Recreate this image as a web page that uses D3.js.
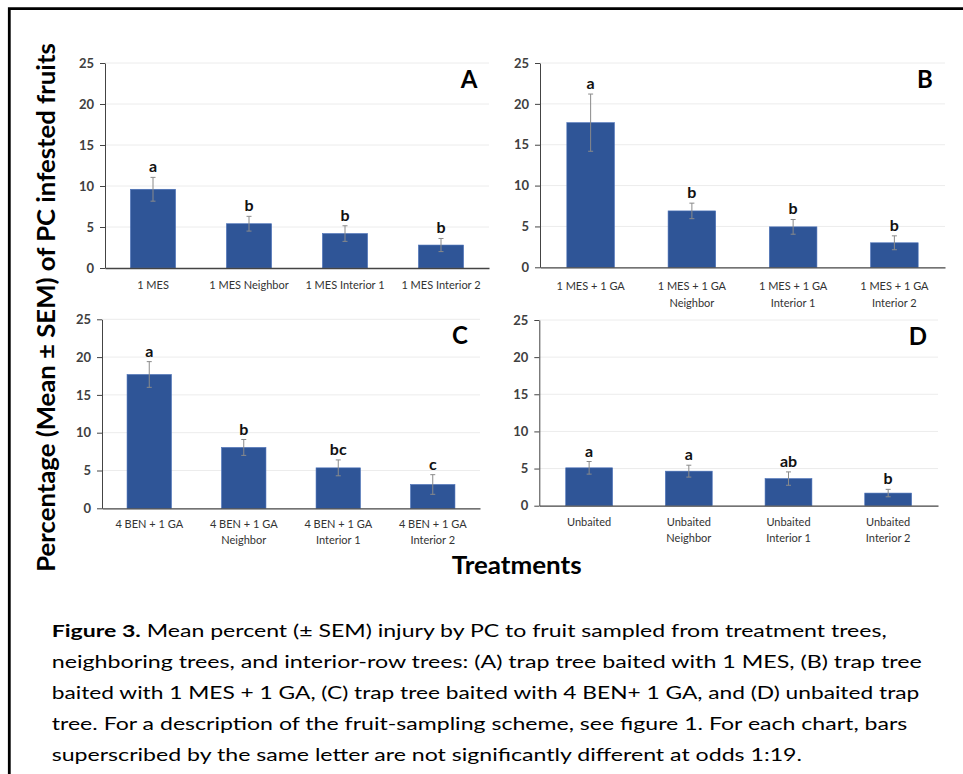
<!DOCTYPE html>
<html><head><meta charset="utf-8">
<script src="https://cdn.jsdelivr.net/npm/d3@7"></script>
<style>body{margin:0;background:#fff}svg{display:block}</style>
</head><body>
<svg id="chart" width="963" height="774"></svg>
<script>
// ---- data ----
const yTicks = [0, 5, 10, 15, 20, 25];

const categoriesA = [["1 MES"], ["1 MES Neighbor"], ["1 MES Interior 1"], ["1 MES Interior 2"]];
const meansA = [9.6, 5.4, 4.2, 2.8];
const semA = [1.45, 0.9, 0.95, 0.8];
const lettersA = ["a", "b", "b", "b"];

const categoriesB = [["1 MES + 1 GA"], ["1 MES + 1 GA", "Neighbor"], ["1 MES + 1 GA", "Interior 1"], ["1 MES + 1 GA", "Interior 2"]];
const meansB = [17.7, 6.9, 4.95, 3.0];
const semB = [3.5, 0.95, 0.9, 0.85];
const lettersB = ["a", "b", "b", "b"];

const categoriesC = [["4 BEN + 1 GA"], ["4 BEN + 1 GA", "Neighbor"], ["4 BEN + 1 GA", "Interior 1"], ["4 BEN + 1 GA", "Interior 2"]];
const meansC = [17.7, 8.05, 5.35, 3.15];
const semC = [1.7, 1.05, 1.05, 1.3];
const lettersC = ["a", "b", "bc", "c"];

const categoriesD = [["Unbaited"], ["Unbaited", "Neighbor"], ["Unbaited", "Interior 1"], ["Unbaited", "Interior 2"]];
const meansD = [5.1, 4.65, 3.65, 1.7];
const semD = [0.85, 0.8, 0.9, 0.5];
const lettersD = ["a", "a", "ab", "b"];

const yTitle = "Percentage (Mean \u00b1 SEM) of PC infested fruits";
const xTitle = "Treatments";
const captionBold = "Figure 3.";
const captionLines = [
  " Mean percent (\u00b1 SEM) injury by PC to fruit sampled from treatment trees,",
  "neighboring trees, and interior-row trees: (A) trap tree baited with 1 MES, (B) trap tree",
  "baited with 1 MES + 1 GA, (C) trap tree baited with 4 BEN+ 1 GA, and (D) unbaited trap",
  "tree. For a description of the fruit-sampling scheme, see figure 1. For each chart, bars",
  "superscribed by the same letter are not significantly different at odds 1:19."
];

// ---- layout ----
const panels = [
  {label: "A", cats: categoriesA, means: meansA, sem: semA, letters: lettersA, x0: 105, x1: 489, yTop: 63, yBot: 268, lab: 21, lh: 16},
  {label: "B", cats: categoriesB, means: meansB, sem: semB, letters: lettersB, x0: 540, x1: 945, yTop: 63, yBot: 267.3, lab: 22.5, lh: 16.7},
  {label: "C", cats: categoriesC, means: meansC, sem: semC, letters: lettersC, x0: 102, x1: 480, yTop: 319.3, yBot: 508.3, lab: 20, lh: 15.3},
  {label: "D", cats: categoriesD, means: meansD, sem: semD, letters: lettersD, x0: 539.3, x1: 938, yTop: 320, yBot: 505.7, lab: 20.5, lh: 16}
];
const FONT = "Lato, 'Open Sans', sans-serif";
const svg = d3.select("#chart");

// frame
svg.append("path")
  .attr("d", "M9.3,774 L9.3,8.7 L963,8.7")
  .attr("fill", "none").attr("stroke", "#000").attr("stroke-width", 2.8);

panels.forEach(p => {
  const g = svg.append("g");
  const y = d3.scaleLinear().domain([0, 25]).range([p.yBot, p.yTop]);
  const x = d3.scaleBand().domain(d3.range(p.means.length)).range([p.x0, p.x1])
    .paddingInner(0.53).paddingOuter(0.265);

  // gridlines
  g.append("g").selectAll("line").data(yTicks.filter(t => t > 0)).join("line")
    .attr("x1", p.x0).attr("x2", p.x1)
    .attr("y1", d => y(d)).attr("y2", d => y(d))
    .attr("stroke", "#ececec").attr("stroke-width", 1);

  // y axis
  const ya = g.append("g").attr("transform", `translate(${p.x0},0)`)
    .call(d3.axisLeft(y).tickValues(yTicks).tickSize(5).tickSizeOuter(0).tickPadding(6));
  ya.select(".domain").attr("stroke", "#444");
  ya.selectAll(".tick line").attr("stroke", "#444");
  ya.selectAll("text").attr("font-family", FONT).attr("font-size", 13).attr("font-weight", 700)
    .attr("fill", "#404040");

  // bars
  g.append("g").selectAll("rect").data(p.means).join("rect")
    .attr("x", (d, i) => x(i)).attr("width", x.bandwidth())
    .attr("y", d => y(d)).attr("height", d => y(0) - y(d))
    .attr("fill", "#2F5597").attr("stroke", "#4a70b8").attr("stroke-width", 0.6);

  // x axis line
  const xa = g.append("g").attr("transform", `translate(0,${p.yBot})`)
    .call(d3.axisBottom(x).tickSize(0).tickSizeOuter(0).tickFormat(""));
  xa.select(".domain").attr("stroke", "#444").attr("stroke-width", 1.3);

  // error bars
  const eb = g.append("g").attr("stroke", "#8a8a8a").attr("stroke-width", 1);
  p.means.forEach((m, i) => {
    const cx = x(i) + x.bandwidth() / 2;
    const lo = y(m - p.sem[i]), hi = y(m + p.sem[i]);
    eb.append("line").attr("x1", cx).attr("x2", cx).attr("y1", lo).attr("y2", hi);
    eb.append("line").attr("x1", cx - 2.5).attr("x2", cx + 2.5).attr("y1", hi).attr("y2", hi);
    eb.append("line").attr("x1", cx - 2.5).attr("x2", cx + 2.5).attr("y1", lo).attr("y2", lo);
  });

  // significance letters
  g.append("g").selectAll("text").data(p.letters).join("text")
    .attr("x", (d, i) => x(i) + x.bandwidth() / 2)
    .attr("y", (d, i) => y(p.means[i] + p.sem[i]) - 5)
    .attr("text-anchor", "middle").attr("font-family", FONT)
    .attr("font-size", 16).attr("font-weight", 700).attr("fill", "#111")
    .text(d => d);

  // category labels
  p.cats.forEach((lines, i) => {
    const t = g.append("text")
      .attr("x", x(i) + x.bandwidth() / 2).attr("y", p.yBot + p.lab)
      .attr("text-anchor", "middle").attr("font-family", FONT)
      .attr("font-size", 11).attr("fill", "#333");
    lines.forEach((ln, k) => {
      t.append("tspan").attr("x", x(i) + x.bandwidth() / 2).attr("y", p.yBot + p.lab + k * p.lh).text(ln);
    });
  });

  // panel letter
  g.append("text").attr("x", p.x1 - 20).attr("y", p.yTop + 25)
    .attr("text-anchor", "middle").attr("font-family", FONT)
    .attr("font-size", 24).attr("font-weight", 700).attr("fill", "#000")
    .text(p.label);
});

// helper: stretch text horizontally (in its own frame) to a target length
function fitText(sel, target) {
  const w = sel.node().getComputedTextLength();
  return target / w;
}

// y title
const yt = svg.append("text").attr("font-family", FONT).attr("font-size", 23)
  .attr("font-weight", 700).attr("fill", "#000").attr("text-anchor", "middle").text(yTitle);
const syt = fitText(yt, 529);
yt.attr("transform", `translate(55,307.5) rotate(-90) scale(${syt},1.08)`);

// x title
const xt = svg.append("text").attr("font-family", FONT).attr("font-size", 24.5)
  .attr("font-weight", 700).attr("fill", "#000").attr("text-anchor", "middle").text(xTitle);
const sxt = fitText(xt, 130);
xt.attr("transform", `translate(516.7,574.3) scale(${sxt},1)`);

// caption
const capStart = 51.7;
const capEnds = [886.7, 921.7, 919, 907, 802];
const capBase = [637, 668, 699, 730, 761];
captionLines.forEach((ln, i) => {
  const t = svg.append("text").attr("font-family", FONT).attr("font-size", 17.7).attr("fill", "#000");
  if (i === 0) t.append("tspan").attr("font-weight", 700).text(captionBold);
  t.append("tspan").text(ln);
  const s = fitText(t, capEnds[i] - capStart);
  t.attr("transform", `translate(${capStart},${capBase[i]}) scale(${s},1)`);
});
</script>
</body></html>
